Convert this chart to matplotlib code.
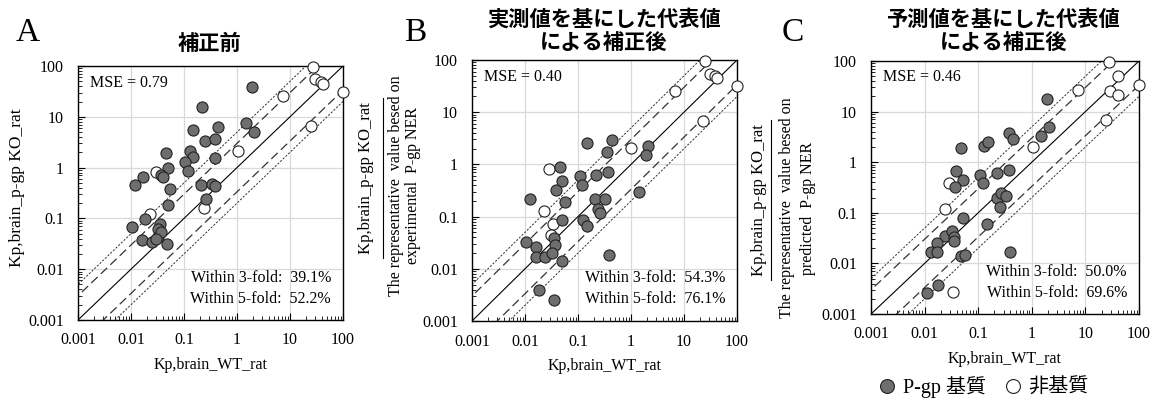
import matplotlib
matplotlib.use('Agg')
import matplotlib.pyplot as plt
from matplotlib.lines import Line2D
import numpy as np

W, H = 1163, 401

# panel A: before correction
a_sub_x = [1.95, 0.22, 1.46, 2.1, 0.43, 0.15, 0.254, 0.38, 0.046, 0.13, 0.148, 0.38, 0.106, 0.12, 0.05,
           0.037, 0.04, 0.017, 0.012, 0.054, 0.21, 0.34, 0.39, 0.26, 0.05, 0.018, 0.0104, 0.036, 0.033,
           0.033, 0.016, 0.025, 0.048, 0.037, 0.030]
a_sub_y = [39, 15.8, 7.6, 5.1, 6.3, 5.5, 3.4, 3.6, 1.9, 2.15, 1.6, 1.55, 1.27, 0.85, 1.0,
           0.72, 0.65, 0.66, 0.45, 0.38, 0.45, 0.48, 0.43, 0.245, 0.18, 0.098, 0.067, 0.079, 0.063,
           0.043, 0.037, 0.035, 0.032, 0.055, 0.040]
a_non_x = [0.029, 0.023, 0.24, 1.06, 27.6, 30, 38, 42, 7.3, 100, 25]
a_non_y = [0.81, 0.12, 0.16, 2.1, 94, 55, 48, 44, 26, 31, 6.6]

# panel B: corrected with experimental NER
b_sub_x = [0.15, 0.43, 0.36, 2.05, 1.9, 0.046, 0.107, 0.215, 0.37, 0.05, 0.118, 0.038, 0.0124, 0.056,
           0.21, 0.32, 0.24, 0.26, 0.126, 0.049, 0.145, 0.0103, 0.036, 0.016, 0.037, 0.016, 0.024,
           0.033, 0.049, 0.38, 0.018, 0.035, 1.41]
b_sub_y = [2.6, 2.96, 1.74, 2.3, 1.5, 0.9, 0.6, 0.63, 0.73, 0.48, 0.40, 0.32, 0.22, 0.19,
           0.22, 0.22, 0.14, 0.117, 0.087, 0.085, 0.065, 0.032, 0.039, 0.026, 0.029, 0.017, 0.0165,
           0.02, 0.014, 0.018, 0.0039, 0.0025, 0.30]
b_non_x = [0.028, 0.023, 0.034, 0.031, 1.01, 25, 31, 38, 42, 6.8, 98, 23]
b_non_y = [0.83, 0.13, 0.072, 0.045, 2.07, 96, 55, 49, 46, 26, 32, 6.8]

# panel C: corrected with predicted NER
c_sub_x = [1.95, 2.1, 1.48, 0.38, 0.44, 0.048, 0.129, 0.155, 0.039, 0.052, 0.037, 0.11, 0.122, 0.22,
           0.38, 0.22, 0.27, 0.33, 0.26, 0.052, 0.148, 0.024, 0.032, 0.035, 0.036, 0.017, 0.013,
           0.017, 0.048, 0.056, 0.39, 0.018, 0.011]
c_sub_y = [17.7, 4.9, 3.3, 3.7, 2.9, 1.9, 2.1, 2.5, 0.66, 0.45, 0.32, 0.57, 0.39, 0.6,
           0.69, 0.2, 0.25, 0.21, 0.13, 0.079, 0.060, 0.035, 0.043, 0.033, 0.028, 0.025, 0.017,
           0.017, 0.014, 0.0145, 0.0166, 0.0037, 0.0026]
c_non_x = [0.029, 0.024, 0.034, 1.05, 27.7, 41, 29.3, 40.6, 7.3, 98, 24.5]
c_non_y = [0.38, 0.12, 0.0027, 2.0, 96, 50, 25.6, 21.7, 27, 33, 6.7]

mse_labels = ["MSE = 0.79", "MSE = 0.40", "MSE = 0.46"]
fold3 = ["39.1%", "54.3%", "50.0%"]
fold5 = ["52.2%", "76.1%", "69.6%"]
titles = ["補正前", "実測値を基にした代表値\nによる補正後", "予測値を基にした代表値\nによる補正後"]
tick_vals = [0.001, 0.01, 0.1, 1, 10, 100]
tick_labels = ["0.001", "0.01", "0.1", "1", "10", "100"]

SERIF = ['Liberation Serif', 'Noto Sans CJK JP']
CJK = ['Noto Sans CJK JP', 'DejaVu Sans']
plt.rcParams['font.family'] = SERIF

fig = plt.figure(figsize=(W / 100, H / 100), dpi=100)


def px_axes(left, top, right, bottom):
    return fig.add_axes([left / W, 1 - bottom / H, (right - left) / W, (bottom - top) / H])


def draw_panel(ax, sx, sy, nx, ny, k):
    ax.set_xscale('log')
    ax.set_yscale('log')
    ax.set_xlim(0.001, 100)
    ax.set_ylim(0.001, 100)
    ax.grid(True, which='major', color='#d9d9d9', lw=0.9)
    ax.set_axisbelow(True)
    xs = np.array([1e-4, 1e3])
    ax.plot(xs, xs, color='black', lw=0.8, zorder=2)
    for f in (3, 1 / 3):
        ax.plot(xs, xs * f, color='#333333', lw=0.9, dashes=(7, 3.5), zorder=2)
    for f in (5, 1 / 5):
        ax.plot(xs, xs * f, color='#333333', lw=0.7, dashes=(2.2, 1.6), zorder=2)
    ax.scatter(nx, ny, s=64, facecolor='white', edgecolor='#222222', lw=0.8, zorder=3, clip_on=False)
    ax.scatter(sx, sy, s=64, facecolor='#6e6e6e', edgecolor='#222222', lw=0.8, zorder=4, clip_on=False)
    ax.set_xticks(tick_vals)
    ax.set_xticklabels(tick_labels)
    ax.set_yticks(tick_vals)
    ax.set_yticklabels(tick_labels)
    ax.tick_params(which='both', direction='in', labelsize=11.5, top=False, right=False)
    ax.tick_params(which='major', length=5)
    ax.tick_params(axis='x', which='major', pad=9)
    ax.tick_params(axis='y', which='major', pad=10)
    ax.tick_params(which='minor', length=3)
    for sp in ax.spines.values():
        sp.set_linewidth(1.0)
    ax.set_xlabel("Kp,brain_WT_rat", fontsize=11.5, labelpad=6)
    ax.text(0.045, 0.935, mse_labels[k], transform=ax.transAxes, fontsize=11.5, va='center')
    ax.text(0.955, 0.165, "Within 3-fold:  " + fold3[k], transform=ax.transAxes,
            fontsize=11.5, ha='right', va='center')
    ax.text(0.955, 0.083, "Within 5-fold:  " + fold5[k], transform=ax.transAxes,
            fontsize=11.5, ha='right', va='center')


axA = px_axes(78, 66, 343, 320)
axB = px_axes(472, 60, 737, 321)
axC = px_axes(871, 61, 1139, 314)
draw_panel(axA, a_sub_x, a_sub_y, a_non_x, a_non_y, 0)
draw_panel(axB, b_sub_x, b_sub_y, b_non_x, b_non_y, 1)
draw_panel(axC, c_sub_x, c_sub_y, c_non_x, c_non_y, 2)

# titles and panel letters
for cx, cy, t in [(209, 43, titles[0]), (604, 31, titles[1]), (1004, 31, titles[2])]:
    fig.text(cx / W, 1 - cy / H, t, family=CJK, fontweight='bold', fontsize=15.3,
             ha='center', va='center', linespacing=1.1)
for lx, t in [(16, "A"), (404, "B"), (782, "C")]:
    fig.text(lx / W, 1 - 33 / H, t, fontsize=24, ha='left', va='center')

# y labels
fig.text(17 / W, 1 - 188 / H, "Kp,brain_p-gp KO_rat", rotation=90, fontsize=12.5,
         ha='center', va='center')
for nx_, bx, d1x, d2x, cy, half, den2 in [(366, 383, 396, 413, 178, 80, "experimental  P-gp NER"),
                                           (759, 771, 787, 808, 200, 80, "predicted  P-gp NER")]:
    fig.text(nx_ / W, 1 - cy / H, "Kp,brain_p-gp KO_rat", rotation=90, fontsize=12,
             ha='center', va='center')
    fig.add_artist(Line2D([bx / W, bx / W], [1 - (cy - half) / H, 1 - (cy + half) / H],
                          transform=fig.transFigure, color='black', lw=0.8))
    fig.text(d1x / W, 1 - (cy + 8) / H, "The representative  value besed on", rotation=90,
             fontsize=11.5, ha='center', va='center')
    fig.text(d2x / W, 1 - (cy + 8) / H, den2, rotation=90, fontsize=11.5, ha='center', va='center')

# legend
handles = [Line2D([], [], ls='none', marker='o', ms=10, mfc='#6e6e6e', mec='#222222', mew=0.8),
           Line2D([], [], ls='none', marker='o', ms=10, mfc='white', mec='#222222', mew=0.8)]
fig.legend(handles, ["P-gp 基質", "非基質"], loc='center', bbox_to_anchor=(983 / W, 1 - 387 / H),
           ncol=2, frameon=False, handletextpad=0.3, columnspacing=0.8, handlelength=1.0,
           prop={'family': SERIF, 'size': 14.5})

fig.savefig("out.png", dpi=100)
